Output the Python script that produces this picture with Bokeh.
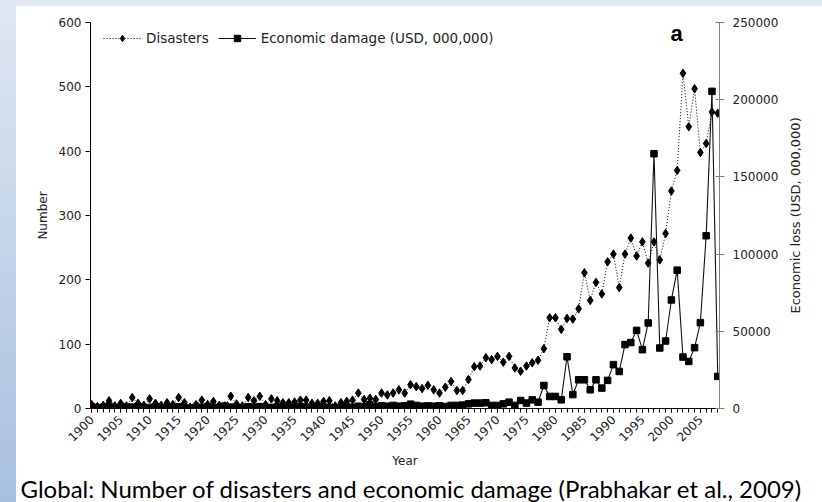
import math
from bokeh.plotting import figure
from bokeh.models import (Range1d, LinearAxis, FixedTicker, BasicTickFormatter,
                          Legend, LegendItem, Label, Title, ColumnDataSource)
from bokeh.embed import file_html
from bokeh.resources import INLINE

years = list(range(1900, 2009))

disasters = [
    6, 3, 5, 12, 4, 8, 4, 17, 8, 5,          # 1900-1909
    15, 8, 5, 9, 6, 17, 9, 2, 6, 13,         # 1910-1919
    6, 11, 5, 4, 19, 7, 4, 17, 12, 19,       # 1920-1929
    6, 15, 12, 9, 9, 10, 13, 13, 8, 8,       # 1930-1939
    11, 12, 4, 9, 11, 13, 24, 14, 16, 14,    # 1940-1949
    24, 21, 24, 29, 24, 37, 34, 31, 36, 29,  # 1950-1959
    24, 33, 42, 28, 28, 45, 65, 66, 79, 76,  # 1960-1969
    81, 72, 81, 63, 58, 66, 71, 75, 93, 141, # 1970-1979
    141, 123, 140, 139, 155, 211, 168, 196, 178, 228,  # 1980-1989
    240, 188, 240, 265, 237, 259, 226, 259, 231, 272,  # 1990-1999
    338, 370, 521, 438, 497, 398, 412, 461, 459,       # 2000-2008
]

damage = [
    1200, 400, 800, 1500, 300, 600, 1000, 900, 1300, 500,      # 1900-1909
    700, 1100, 400, 600, 900, 1200, 500, 300, 600, 800,        # 1910-1919
    1000, 700, 500, 1600, 900, 400, 600, 1100, 800, 1200,      # 1920-1929
    500, 700, 1000, 600, 400, 800, 1300, 900, 500, 700,        # 1930-1939
    1000, 600, 400, 800, 1100, 700, 1500, 1200, 2500, 1200,    # 1940-1949
    1800, 1500, 2000, 1500, 1800, 2800, 2000, 1500, 1700, 1500,  # 1950-1959
    1800, 1300, 2000, 2000, 2200, 3000, 3500, 3500, 3700, 2000,  # 1960-1969
    2000, 3000, 4100, 2000, 5200, 3500, 5600, 4100, 14900, 7800, # 1970-1979
    7800, 5600, 33500, 9000, 18600, 18600, 12100, 18600, 13200, 18200,  # 1980-1989
    28400, 24000, 41400, 42700, 50600, 38100, 55400, 165000, 39200, 43700,  # 1990-1999
    70300, 89600, 33300, 30500, 39400, 55600, 111900, 205400, 20800,  # 2000-2008
]

year_labels = list(range(1900, 2006, 5))
left_ticks = [0, 100, 200, 300, 400, 500, 600]
right_ticks = [0, 50000, 100000, 150000, 200000, 250000]

src = ColumnDataSource(dict(year=years, disasters=disasters, damage=damage))

FONT = "DejaVu Sans"

p = figure(width=822, height=502, output_backend="svg", toolbar_location=None,
           x_range=Range1d(1899.8, 2008.3), y_range=Range1d(0, 600),
           min_border_left=90, min_border_right=103, min_border_top=22,
           min_border_bottom=94, background_fill_color="white",
           border_fill_alpha=0)
p.styles = {
    "background-color": "white",
    "background-image": ("linear-gradient(to bottom, #dfe7f2, #a8c0df), "
                         "linear-gradient(to bottom, #e3eaf4, #e3eaf4)"),
    "background-size": "16px 100%, 100% 6px",
    "background-repeat": "no-repeat, no-repeat",
}
p.extra_y_ranges = {"econ": Range1d(0, 250000)}
p.outline_line_color = None
p.xgrid.visible = False
p.ygrid.visible = False

l1 = p.line("year", "disasters", source=src, line_color="black",
            line_width=1, line_dash="1 2")
m1 = p.scatter("year", "disasters", source=src, marker="diamond", size=8.5,
               fill_color="black", line_color="black")
l2 = p.line("year", "damage", source=src, y_range_name="econ",
            line_color="#111111", line_width=1.1)
m2 = p.scatter("year", "damage", source=src, y_range_name="econ",
               marker="square", size=6.5, fill_color="black", line_color="black")

# x axis
xa = p.xaxis[0]
xa.ticker = FixedTicker(ticks=year_labels, minor_ticks=years)
xa.major_label_orientation = math.pi / 4
xa.major_tick_out = 4
xa.major_tick_in = 0
xa.minor_tick_out = 4
xa.minor_tick_in = 0
xa.axis_line_color = "black"
xa.major_label_text_font = FONT
xa.major_label_text_font_size = "12px"
xa.major_label_text_color = "#222222"
xa.major_label_standoff = 5
xa.axis_label = "Year"
xa.axis_label_text_font = FONT
xa.axis_label_text_font_size = "12px"
xa.axis_label_text_font_style = "normal"
xa.axis_label_text_color = "#222222"
xa.axis_label_standoff = 6

# left axis
ya = p.yaxis[0]
ya.ticker = FixedTicker(ticks=left_ticks)
ya.minor_tick_line_color = None
ya.major_tick_out = 5
ya.major_tick_in = 0
ya.axis_line_color = "black"
ya.major_label_text_font = FONT
ya.major_label_text_font_size = "12px"
ya.major_label_text_color = "#222222"
ya.major_label_standoff = 4
ya.axis_label = "Number"
ya.axis_label_text_font = FONT
ya.axis_label_text_font_size = "12px"
ya.axis_label_text_font_style = "normal"
ya.axis_label_text_color = "#222222"
ya.axis_label_standoff = 6

# right axis
ra = LinearAxis(y_range_name="econ", ticker=FixedTicker(ticks=right_ticks),
                formatter=BasicTickFormatter(use_scientific=False))
ra.minor_tick_line_color = None
ra.major_tick_out = 5
ra.major_tick_in = 4
ra.axis_line_color = "#808080"
ra.major_tick_line_color = "#808080"
ra.major_label_text_font = FONT
ra.major_label_text_font_size = "12px"
ra.major_label_text_color = "#222222"
ra.major_label_standoff = 8
p.add_layout(ra, "right")

# right axis title, reading bottom to top, carried by a bare extra axis;
# the anchor value only places the start of the text so that it is centred
title_anchor = 61500
rt = LinearAxis(y_range_name="econ", ticker=FixedTicker(ticks=[title_anchor]),
                major_label_overrides={title_anchor: "Economic loss (USD, 000,000)"})
rt.major_label_orientation = math.pi / 2
rt.axis_line_color = None
rt.major_tick_line_color = None
rt.minor_tick_line_color = None
rt.major_tick_out = 0
rt.major_tick_in = 0
rt.major_label_standoff = 14
rt.major_label_text_font = FONT
rt.major_label_text_font_size = "13px"
rt.major_label_text_color = "#222222"
p.add_layout(rt, "right")

# panel letter
p.add_layout(Label(x=2000.9, y=583, text="a", text_align="center",
                   text_baseline="middle", text_font="Liberation Sans",
                   text_font_size="22px", text_font_style="bold",
                   text_color="black"))

legend = Legend(items=[LegendItem(label="Disasters", renderers=[l1, m1]),
                       LegendItem(label="Economic damage (USD, 000,000)", renderers=[l2, m2])],
                orientation="horizontal", location=(13, 362), margin=0, padding=2,
                glyph_width=38, glyph_height=16, label_standoff=5, spacing=9,
                label_text_font=FONT, label_text_font_size="13.5px",
                label_text_color="#222222", border_line_color=None,
                background_fill_alpha=0)
p.add_layout(legend)

p.add_layout(Title(text="Global: Number of disasters and economic damage (Prabhakar et al., 2009)",
                   align="left", text_font="Lato", text_font_size="24px",
                   text_font_style="normal", text_color="black", offset=-70,
                   standoff=0), "below")

open("out.html", "w").write(file_html(p, INLINE))
